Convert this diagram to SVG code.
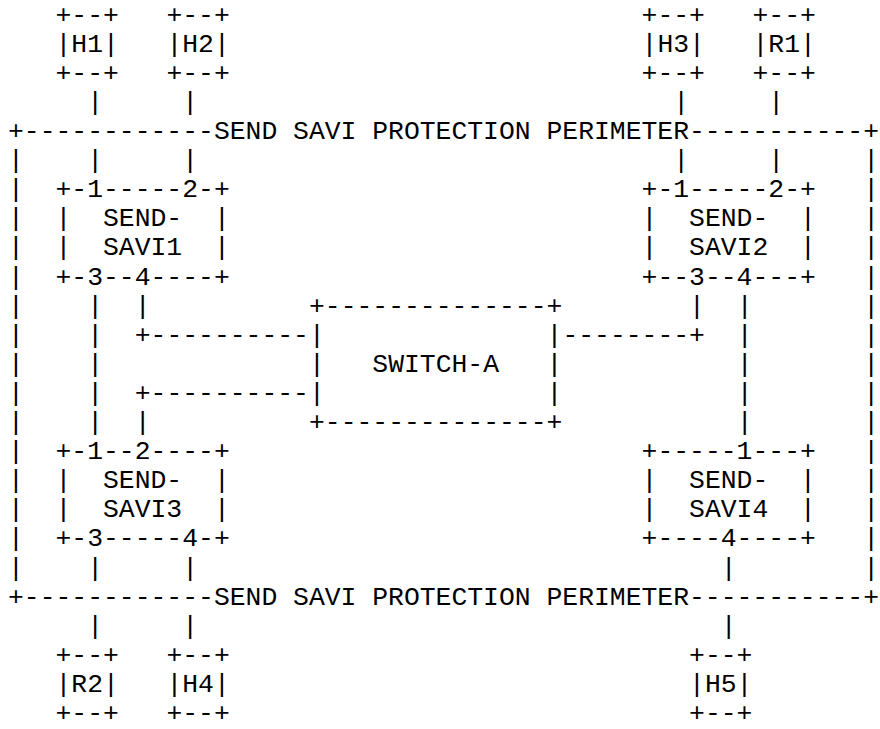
<svg xmlns="http://www.w3.org/2000/svg" width="880" height="729" viewBox="0 0 880 729" xml:space="preserve">
<style>
text { font-family: "Liberation Mono", "DejaVu Sans Mono", monospace; font-size: 26.4px; fill: #000; white-space: pre; }
</style>
<rect width="880" height="729" fill="#fff"/>
<g id="perimeter">
<text x="8" y="139">+------------SEND SAVI PROTECTION PERIMETER-----------+</text>
<text x="8" y="604.6">+------------SEND SAVI PROTECTION PERIMETER-----------+</text>
<text x="8" y="168.1">|</text><text x="863.36" y="168.1">|</text>
<text x="8" y="197.2">|</text><text x="863.36" y="197.2">|</text>
<text x="8" y="226.3">|</text><text x="863.36" y="226.3">|</text>
<text x="8" y="255.4">|</text><text x="863.36" y="255.4">|</text>
<text x="8" y="284.5">|</text><text x="863.36" y="284.5">|</text>
<text x="8" y="313.6">|</text><text x="863.36" y="313.6">|</text>
<text x="8" y="342.7">|</text><text x="863.36" y="342.7">|</text>
<text x="8" y="371.8">|</text><text x="863.36" y="371.8">|</text>
<text x="8" y="400.9">|</text><text x="863.36" y="400.9">|</text>
<text x="8" y="430">|</text><text x="863.36" y="430">|</text>
<text x="8" y="459.1">|</text><text x="863.36" y="459.1">|</text>
<text x="8" y="488.2">|</text><text x="863.36" y="488.2">|</text>
<text x="8" y="517.3">|</text><text x="863.36" y="517.3">|</text>
<text x="8" y="546.4">|</text><text x="863.36" y="546.4">|</text>
<text x="8" y="575.5">|</text><text x="863.36" y="575.5">|</text>
</g>
<g id="H1"><text x="55.52" y="22.6">+--+</text><text x="55.52" y="51.7">|H1|</text><text x="55.52" y="80.8">+--+</text></g>
<g id="H2"><text x="166.4" y="22.6">+--+</text><text x="166.4" y="51.7">|H2|</text><text x="166.4" y="80.8">+--+</text></g>
<g id="H3"><text x="641.6" y="22.6">+--+</text><text x="641.6" y="51.7">|H3|</text><text x="641.6" y="80.8">+--+</text></g>
<g id="R1"><text x="752.48" y="22.6">+--+</text><text x="752.48" y="51.7">|R1|</text><text x="752.48" y="80.8">+--+</text></g>
<g id="R2"><text x="55.52" y="662.8">+--+</text><text x="55.52" y="691.9">|R2|</text><text x="55.52" y="721">+--+</text></g>
<g id="H4"><text x="166.4" y="662.8">+--+</text><text x="166.4" y="691.9">|H4|</text><text x="166.4" y="721">+--+</text></g>
<g id="H5"><text x="689.12" y="662.8">+--+</text><text x="689.12" y="691.9">|H5|</text><text x="689.12" y="721">+--+</text></g>
<g id="SEND-SAVI1">
<text x="55.52" y="197.2">+-1-----2-+</text><text x="55.52" y="226.3">|  SEND-  |</text><text x="55.52" y="255.4">|  SAVI1  |</text><text x="55.52" y="284.5">+-3--4----+</text>
</g>
<g id="SEND-SAVI2">
<text x="641.6" y="197.2">+-1-----2-+</text><text x="641.6" y="226.3">|  SEND-  |</text><text x="641.6" y="255.4">|  SAVI2  |</text><text x="641.6" y="284.5">+--3--4---+</text>
</g>
<g id="SEND-SAVI3">
<text x="55.52" y="459.1">+-1--2----+</text><text x="55.52" y="488.2">|  SEND-  |</text><text x="55.52" y="517.3">|  SAVI3  |</text><text x="55.52" y="546.4">+-3-----4-+</text>
</g>
<g id="SEND-SAVI4">
<text x="641.6" y="459.1">+-----1---+</text><text x="641.6" y="488.2">|  SEND-  |</text><text x="641.6" y="517.3">|  SAVI4  |</text><text x="641.6" y="546.4">+----4----+</text>
</g>
<g id="SWITCH-A">
<text x="308.96" y="313.6">+--------------+</text><text x="308.96" y="342.7">|              |</text><text x="308.96" y="371.8">|   SWITCH-A   |</text><text x="308.96" y="400.9">|              |</text><text x="308.96" y="430">+--------------+</text>
</g>
<g id="connectors">
<text x="87.2" y="109.9">|</text><text x="87.2" y="168.1">|</text>
<text x="182.24" y="109.9">|</text><text x="182.24" y="168.1">|</text>
<text x="673.28" y="109.9">|</text><text x="673.28" y="168.1">|</text>
<text x="768.32" y="109.9">|</text><text x="768.32" y="168.1">|</text>
<text x="87.2" y="313.6">|</text><text x="87.2" y="342.7">|</text><text x="87.2" y="371.8">|</text><text x="87.2" y="400.9">|</text><text x="87.2" y="430">|</text>
<text x="134.72" y="313.6">|</text><text x="134.72" y="342.7">+----------</text>
<text x="134.72" y="400.9">+----------</text><text x="134.72" y="430">|</text>
<text x="689.12" y="313.6">|</text><text x="562.4" y="342.7">--------+</text>
<text x="736.64" y="313.6">|</text><text x="736.64" y="342.7">|</text><text x="736.64" y="371.8">|</text><text x="736.64" y="400.9">|</text><text x="736.64" y="430">|</text>
<text x="87.2" y="575.5">|</text><text x="87.2" y="633.7">|</text>
<text x="182.24" y="575.5">|</text><text x="182.24" y="633.7">|</text>
<text x="720.8" y="575.5">|</text><text x="720.8" y="633.7">|</text>
</g>
</svg>
